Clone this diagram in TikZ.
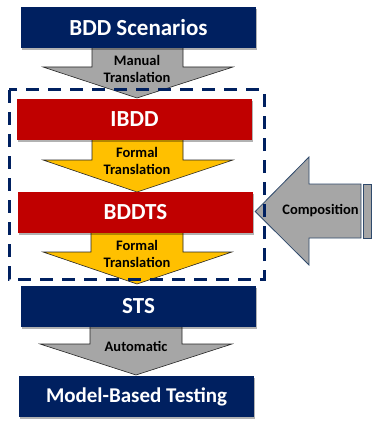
\documentclass[tikz,border=0pt]{standalone}
\usepackage{fontspec}
\setmainfont{Carlito}
\usetikzlibrary{shadows}
\definecolor{navy}{HTML}{002060}
\definecolor{boxred}{HTML}{C00000}
\definecolor{amber}{HTML}{FFC000}
\definecolor{arrgray}{HTML}{A6A6A6}
\definecolor{edgeblue}{HTML}{2F4A6C}
\tikzset{
  box/.style={minimum width=235pt, minimum height=41pt, inner sep=0pt, text=white,
    font=\bfseries\fontsize{23}{27}\selectfont,
    drop shadow={shadow xshift=1pt, shadow yshift=-1.8pt, opacity=0.3, fill=black}},
  navybox/.style={box, fill=navy},
  redbox/.style={box, fill=boxred},
  garrow/.style={fill=arrgray, draw=black!85, line width=0.6pt, line join=miter},
  yarrow/.style={fill=amber, draw=black!85, line width=0.6pt, line join=miter},
  carrow/.style={fill=arrgray, draw=edgeblue, line width=0.8pt, line join=miter},
  lab/.style={align=center, inner sep=0pt, text=black, font=\bfseries\fontsize{14.5}{17}\selectfont},
  frame/.style={draw=navy, line width=3pt, dash pattern=on 13pt off 9pt}
}
\begin{document}
\begin{tikzpicture}[x=1pt,y=-1pt]
\useasboundingbox (0,0) rectangle (373,422);
% block arrows (drawn first, boxes cover their tops)
\draw[garrow] (92,46) -- (92,67) -- (43,67) -- (137,98) -- (233,67) -- (183,67) -- (183,46);
\draw[yarrow] (92,138) -- (92,160) -- (43,160) -- (137,192) -- (233,160) -- (183,160) -- (183,138);
\draw[yarrow] (91,231) -- (91,252) -- (43,252) -- (137,284) -- (232,252) -- (183,252) -- (183,231);
\draw[garrow] (90,325) -- (90,344) -- (40,344) -- (136,375) -- (232,344) -- (182,344) -- (182,325);
% boxes
\node[navybox] (bdd)   at (138.5,27.5)  {BDD Scenarios};
\node[redbox]  (ibdd)  at (134.5,119.5) {IBDD};
\node[redbox]  (bddts) at (135.5,212.5) {BDDTS};
\node[navybox] (sts)   at (138.5,306.5) {STS};
\node[navybox, font=\bfseries\fontsize{21}{25}\selectfont] (mbt) at (136.5,396.5) {Model-Based Testing};
% arrow labels
\node[lab] (l1) at (137,68.5)  {Manual\\Translation};
\node[lab] (l2) at (137,161)   {Formal\\Translation};
\node[lab] (l3) at (137,253.5) {Formal\\Translation};
\node[lab] (l4) at (136,346)   {Automatic};
% composition arrow
\draw[carrow] (bddts.east) ++(2,-1) -- (309,157) -- (309,184) -- (361,184) -- (361,238) -- (309,238) -- (309,265) -- cycle;
\draw[carrow] (363,184) rectangle (371,238);
\node[lab] (comp) at (320.5,211) {Composition};
% dashed frame
\draw[frame] (9,90) rectangle (264,279);
\end{tikzpicture}
\end{document}
